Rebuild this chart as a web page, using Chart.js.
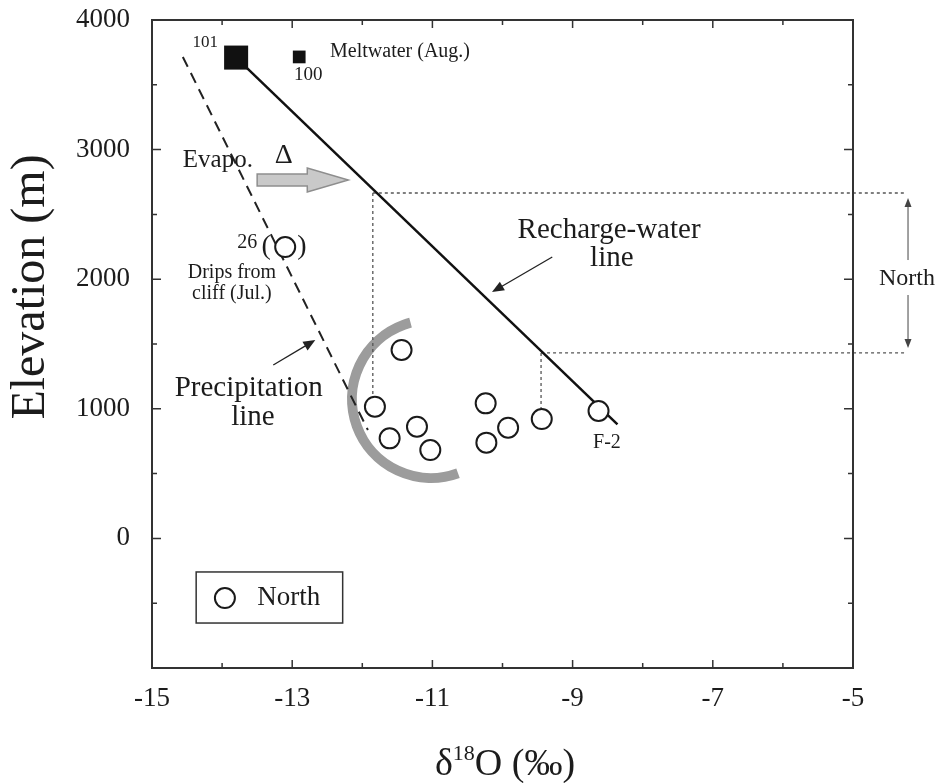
<!DOCTYPE html>
<html>
<head>
<meta charset="utf-8">
<script src="https://cdn.jsdelivr.net/npm/chart.js@4.4.1/dist/chart.umd.min.js"></script>
<style>
  html, body { margin: 0; padding: 0; background: #fff; }
  canvas { display: block; }
</style>
</head>
<body>
<canvas id="chart" width="936" height="783"></canvas>
<script>
// --- data ---
const northX = [-11.44, -11.82, -11.61, -11.22, -11.03, -10.24, -10.23, -9.92, -9.44, -8.63];
const northY = [1454, 1016, 772, 862, 682, 1042, 739, 854, 921, 983];
const dripX = [-13.10];           // sample 26, drips from cliff (Jul.)
const dripY = [2248];
const melt101X = [-13.80];        // meltwater (Aug.)
const melt101Y = [3710];
const melt100X = [-12.90];
const melt100Y = [3715];
const rechargeX = [-13.80, -8.36];
const rechargeY = [3710, 880];
const precipX = [-14.56, -11.92];
const precipY = [3715, 836];
const xTicks = [-15, -13, -11, -9, -7, -5];
const yTicks = [-1000, 0, 1000, 2000, 3000, 4000];

const pts = (xs, ys) => xs.map((x, i) => ({ x: x, y: ys[i] }));
const FONT = '"Liberation Serif", "Times New Roman", serif';
const INK = '#1c1c1c';

// --- drawing helpers for the annotations ---
function arrow(ctx, x1, y1, x2, y2, len, half, color, lw) {
    const ang = Math.atan2(y2 - y1, x2 - x1);
    ctx.save();
    ctx.strokeStyle = color;
    ctx.fillStyle = color;
    ctx.lineWidth = lw;
    ctx.beginPath();
    ctx.moveTo(x1, y1);
    ctx.lineTo(x2 - Math.cos(ang) * len * 0.8, y2 - Math.sin(ang) * len * 0.8);
    ctx.stroke();
    ctx.beginPath();
    ctx.moveTo(x2, y2);
    ctx.lineTo(x2 - Math.cos(ang) * len - Math.sin(ang) * half, y2 - Math.sin(ang) * len + Math.cos(ang) * half);
    ctx.lineTo(x2 - Math.cos(ang) * len + Math.sin(ang) * half, y2 - Math.sin(ang) * len - Math.cos(ang) * half);
    ctx.closePath();
    ctx.fill();
    ctx.restore();
}

const decorPlugin = {
    id: 'decor',
    beforeDatasetsDraw(chart) {
        const { ctx, scales: { x, y } } = chart;
        const X = v => x.getPixelForValue(v);
        const Y = v => y.getPixelForValue(v);
        ctx.save();
        // gray arc around the spring cluster
        ctx.strokeStyle = '#9c9c9c';
        ctx.lineWidth = 10;
        ctx.beginPath();
        const r = X(-11.02 + 1.127) - X(-11.02);
        ctx.arc(X(-11.02), Y(1076), r, 70 * Math.PI / 180, 255 * Math.PI / 180);
        ctx.stroke();

        // dotted guide lines to the recharge-water line
        ctx.strokeStyle = '#555';
        ctx.lineWidth = 1.3;
        ctx.setLineDash([3, 3]);
        ctx.beginPath();
        ctx.moveTo(X(-11.85), Y(2665)); ctx.lineTo(X(-4.26), Y(2665));
        ctx.moveTo(X(-11.85), Y(2665)); ctx.lineTo(X(-11.85), Y(1090));
        ctx.moveTo(X(-9.45), Y(1431)); ctx.lineTo(X(-4.26), Y(1431));
        ctx.moveTo(X(-9.45), Y(1431)); ctx.lineTo(X(-9.45), Y(1006));
        ctx.stroke();
        ctx.restore();
    },
    afterDraw(chart) {
        const { ctx, chartArea: a, scales: { x, y } } = chart;
        const X = v => x.getPixelForValue(v);
        const Y = v => y.getPixelForValue(v);
        const text = (s, vx, vy, size, align) => {
            ctx.font = size + 'px ' + FONT;
            ctx.textAlign = align || 'center';
            ctx.textBaseline = 'middle';
            ctx.fillText(s, X(vx), Y(vy));
        };
        ctx.save();
        ctx.fillStyle = INK;

        // frame
        ctx.strokeStyle = '#333';
        ctx.lineWidth = 2;
        ctx.strokeRect(a.left, a.top, a.width, a.height);

        // inward ticks on all four sides
        ctx.lineWidth = 1.5;
        ctx.beginPath();
        for (let v = -15; v <= -5; v++) {
            const len = (v % 2 !== 0) ? 8 : 5;
            const p = X(v);
            ctx.moveTo(p, a.bottom); ctx.lineTo(p, a.bottom - len);
            ctx.moveTo(p, a.top); ctx.lineTo(p, a.top + len);
        }
        for (let v = -1000; v <= 4000; v += 500) {
            const len = (v % 1000 === 0) ? 9 : 5;
            const p = Y(v);
            ctx.moveTo(a.left, p); ctx.lineTo(a.left + len, p);
            ctx.moveTo(a.right, p); ctx.lineTo(a.right - len, p);
        }
        ctx.stroke();

        // axis titles
        ctx.save();
        ctx.translate(31, 287);
        ctx.rotate(-Math.PI / 2);
        ctx.font = '48px ' + FONT;
        ctx.textAlign = 'center';
        ctx.textBaseline = 'middle';
        ctx.fillText('Elevation (m)', 0, 0);
        ctx.restore();

        ctx.textBaseline = 'alphabetic';
        ctx.textAlign = 'left';
        ctx.font = '38px ' + FONT;
        const wD = ctx.measureText('δ').width;
        const wR = ctx.measureText('O (‰)').width;
        ctx.font = '22px ' + FONT;
        const wS = ctx.measureText('18').width;
        let tx = 505 - (wD + wS + wR) / 2;
        const base = 775;
        ctx.font = '38px ' + FONT;
        ctx.fillText('δ', tx, base); tx += wD;
        ctx.font = '22px ' + FONT;
        ctx.fillText('18', tx, base - 15); tx += wS;
        ctx.font = '38px ' + FONT;
        ctx.fillText('O (‰)', tx, base);

        // labels
        text('101', -14.24, 3830, 17);
        text('100', -12.77, 3576, 19);
        text('Meltwater (Aug.)', -12.46, 3753, 20, 'left');
        text('Evapo.', -14.06, 2920, 25);
        text('Δ', -13.12, 2950, 28);
        text('26', -13.64, 2279, 20);
        text('(', -13.37, 2248, 28);
        text(')', -12.86, 2248, 28);
        text('Drips from', -13.86, 2048, 20);
        text('cliff (Jul.)', -13.86, 1886, 20);
        text('Precipitation', -13.62, 1160, 29);
        text('line', -13.56, 937, 29);
        text('Recharge-water', -8.48, 2380, 29);
        text('line', -8.44, 2164, 29);
        text('F-2', -8.51, 736, 20);
        text('North', -4.23, 2002, 24);

        // pointer arrows
        arrow(ctx, X(-13.27), Y(1338), X(-12.67), Y(1531), 12, 5, '#222', 1.3);
        arrow(ctx, X(-9.29), Y(2171), X(-10.15), Y(1901), 12, 5, '#222', 1.3);

        // North bracket
        arrow(ctx, X(-4.215), Y(2148), X(-4.215), Y(2627), 9, 3.5, '#444', 1);
        arrow(ctx, X(-4.215), Y(1878), X(-4.215), Y(1469), 9, 3.5, '#444', 1);

        // evaporation block arrow
        const bx0 = X(-13.50), bx1 = X(-12.20), by = Y(2765);
        const hx = bx1 - 41;
        ctx.beginPath();
        ctx.moveTo(bx0, by - 6);
        ctx.lineTo(hx, by - 6);
        ctx.lineTo(hx, by - 12);
        ctx.lineTo(bx1, by);
        ctx.lineTo(hx, by + 12);
        ctx.lineTo(hx, by + 6);
        ctx.lineTo(bx0, by + 6);
        ctx.closePath();
        ctx.fillStyle = '#c9c9c9';
        ctx.fill();
        ctx.strokeStyle = '#8e8e8e';
        ctx.lineWidth = 1.5;
        ctx.stroke();

        // legend box
        const lx0 = X(-14.37), lx1 = X(-12.28), ly0 = Y(-259), ly1 = Y(-653);
        ctx.strokeStyle = '#333';
        ctx.lineWidth = 1.5;
        ctx.strokeRect(lx0, ly0, lx1 - lx0, ly1 - ly0);
        ctx.beginPath();
        ctx.arc(X(-13.96), Y(-460), 10, 0, Math.PI * 2);
        ctx.fillStyle = '#fff';
        ctx.fill();
        ctx.strokeStyle = '#1a1a1a';
        ctx.lineWidth = 2;
        ctx.stroke();
        ctx.fillStyle = INK;
        text(chart.data.datasets[0].label, -13.50, -460, 27, 'left');

        ctx.restore();
    }
};

const circleStyle = {
    showLine: false,
    pointStyle: 'circle',
    pointRadius: 10,
    pointBorderWidth: 2,
    pointBackgroundColor: '#fff',
    pointBorderColor: '#1a1a1a'
};

new Chart(document.getElementById('chart'), {
    type: 'scatter',
    data: {
        datasets: [
            Object.assign({ label: 'North', data: pts(northX, northY) }, circleStyle),
            Object.assign({ label: '26', data: pts(dripX, dripY) }, circleStyle),
            { label: '101', data: pts(melt101X, melt101Y), pointStyle: 'rect', pointRadius: 17,
              pointBackgroundColor: '#111', pointBorderWidth: 0 },
            { label: '100', data: pts(melt100X, melt100Y), pointStyle: 'rect', pointRadius: 9,
              pointBackgroundColor: '#111', pointBorderWidth: 0 },
            { label: 'Recharge-water line', data: pts(rechargeX, rechargeY), showLine: true,
              borderColor: '#111', borderWidth: 2.5, pointRadius: 0 },
            { label: 'Precipitation line', data: pts(precipX, precipY), showLine: true,
              borderColor: '#222', borderWidth: 2, borderDash: [11, 7], pointRadius: 0 }
        ]
    },
    options: {
        responsive: false,
        animation: false,
        layout: { padding: { left: 0, top: 20, right: 83, bottom: 0 } },
        plugins: { legend: { display: false }, tooltip: { enabled: false } },
        scales: {
            x: {
                type: 'linear', min: -15, max: -5,
                grid: { display: false }, border: { display: false },
                afterBuildTicks: s => { s.ticks = xTicks.map(v => ({ value: v })); },
                afterFit: s => { s.height = 115; s.paddingLeft = 0; s.paddingRight = 0; },
                ticks: { color: INK, padding: 7, maxRotation: 0, font: { family: FONT, size: 27 } }
            },
            y: {
                type: 'linear', min: -1000, max: 4000,
                grid: { display: false }, border: { display: false },
                afterBuildTicks: s => { s.ticks = yTicks.map(v => ({ value: v })); },
                afterFit: s => { s.width = 152; s.paddingTop = 0; s.paddingBottom = 0; },
                ticks: { color: INK, padding: 14, font: { family: FONT, size: 27 },
                         callback: v => (v === -1000 ? '' : v) }
            }
        }
    },
    plugins: [decorPlugin]
});
</script>
</body>
</html>
